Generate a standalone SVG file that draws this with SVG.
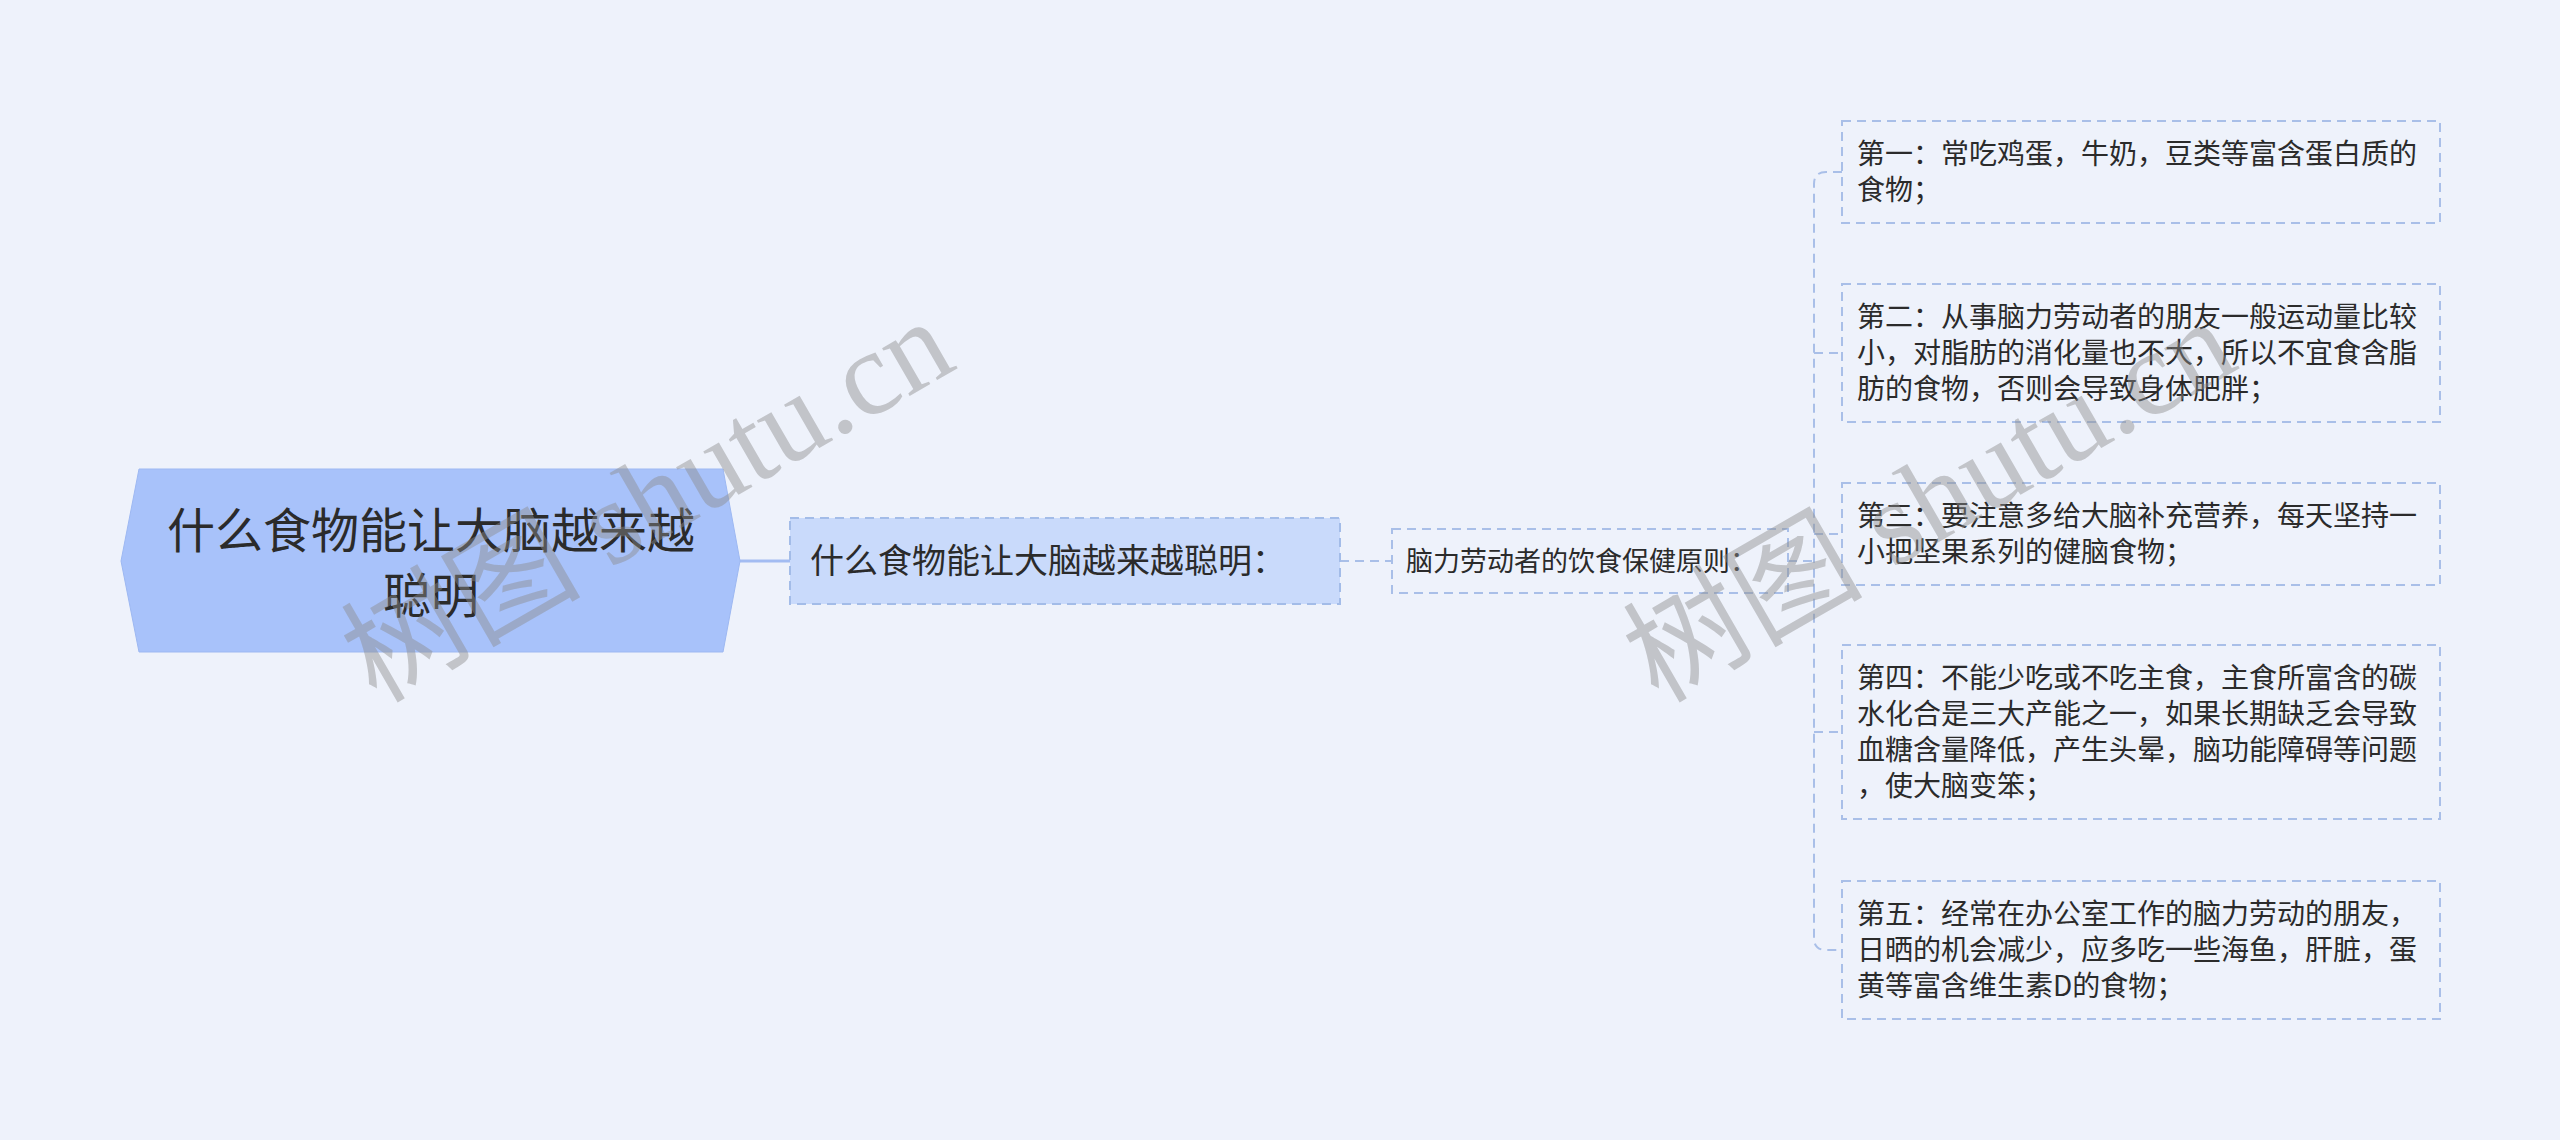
<svg xmlns="http://www.w3.org/2000/svg" width="2560" height="1140" viewBox="0 0 2560 1140">
<style>
.t{font-family:"Noto Sans CJK SC","Noto Sans",sans-serif;fill:#2b2b2b}
.leaf{fill:none;stroke:#a9bfe8;stroke-width:2;stroke-dasharray:9 6}
.conn{fill:none;stroke:#a9bfe8;stroke-width:2;stroke-dasharray:9 6}
.wm{font-family:"Liberation Serif","Noto Sans CJK SC",serif;font-size:120px;fill:#8c8c8c;fill-opacity:0.45}
</style>
<rect width="2560" height="1140" fill="#eef2fb"/>
<g id="connectors">
<line x1="740" y1="561" x2="790" y2="561" stroke="#a3bcf2" stroke-width="3"/>
<line class="conn" x1="1340" y1="561" x2="1392" y2="561"/>
<path class="conn" d="M1788,561 H1814"/>
<path class="conn" d="M1842,172 H1826 Q1814,172 1814,184 V938 Q1814,950 1826,950 H1842"/>
<path class="conn" d="M1814,353 H1842 M1814,534 H1842 M1814,732 H1842"/>
</g>
<g id="root">
<polygon points="121,561 139,469 723,469 740,561 723,652 139,652" fill="#a8c2fa" stroke="#9db8f2" stroke-width="1"/>
<text class="t" x="431" y="548" font-size="48" text-anchor="middle">什么食物能让大脑越来越</text>
<text class="t" x="431" y="613" font-size="48" text-anchor="middle">聪明</text>
</g>
<g id="n1">
<rect x="790" y="518" width="550" height="86" fill="#c9dafb" stroke="#a3bce8" stroke-width="2" stroke-dasharray="9 6"/>
<text class="t" x="810" y="573" font-size="34">什么食物能让大脑越来越聪明：</text>
</g>
<g id="n2">
<rect class="leaf" x="1392" y="529" width="396" height="64"/>
<text class="t" x="1406" y="571" font-size="27">脑力劳动者的饮食保健原则：</text>
</g>
<g id="leaf1">
<rect class="leaf" x="1842" y="121" width="598" height="102"/>
<text class="t" font-size="28"><tspan x="1857" y="164">第一：常吃鸡蛋，牛奶，豆类等富含蛋白质的</tspan><tspan x="1857" y="200">食物；</tspan></text>
</g>
<g id="leaf2">
<rect class="leaf" x="1842" y="284" width="598" height="138"/>
<text class="t" font-size="28"><tspan x="1857" y="327">第二：从事脑力劳动者的朋友一般运动量比较</tspan><tspan x="1857" y="363">小，对脂肪的消化量也不大，所以不宜食含脂</tspan><tspan x="1857" y="399">肪的食物，否则会导致身体肥胖；</tspan></text>
</g>
<g id="leaf3">
<rect class="leaf" x="1842" y="483" width="598" height="102"/>
<text class="t" font-size="28"><tspan x="1857" y="526">第三：要注意多给大脑补充营养，每天坚持一</tspan><tspan x="1857" y="562">小把坚果系列的健脑食物；</tspan></text>
</g>
<g id="leaf4">
<rect class="leaf" x="1842" y="645" width="598" height="174"/>
<text class="t" font-size="28"><tspan x="1857" y="688">第四：不能少吃或不吃主食，主食所富含的碳</tspan><tspan x="1857" y="724">水化合是三大产能之一，如果长期缺乏会导致</tspan><tspan x="1857" y="760">血糖含量降低，产生头晕，脑功能障碍等问题</tspan><tspan x="1857" y="796">，使大脑变笨；</tspan></text>
</g>
<g id="leaf5">
<rect class="leaf" x="1842" y="881" width="598" height="138"/>
<text class="t" font-size="28"><tspan x="1857" y="924">第五：经常在办公室工作的脑力劳动的朋友，</tspan><tspan x="1857" y="960">日晒的机会减少，应多吃一些海鱼，肝脏，蛋</tspan><tspan x="1857" y="996">黄等富含维生素D的食物；</tspan></text>
</g>
<g id="watermarks">
<text class="wm" transform="translate(376,704) rotate(-30)">树图 shutu.cn</text>
<text class="wm" transform="translate(1658,704) rotate(-30)">树图 shutu.cn</text>
</g>
</svg>
